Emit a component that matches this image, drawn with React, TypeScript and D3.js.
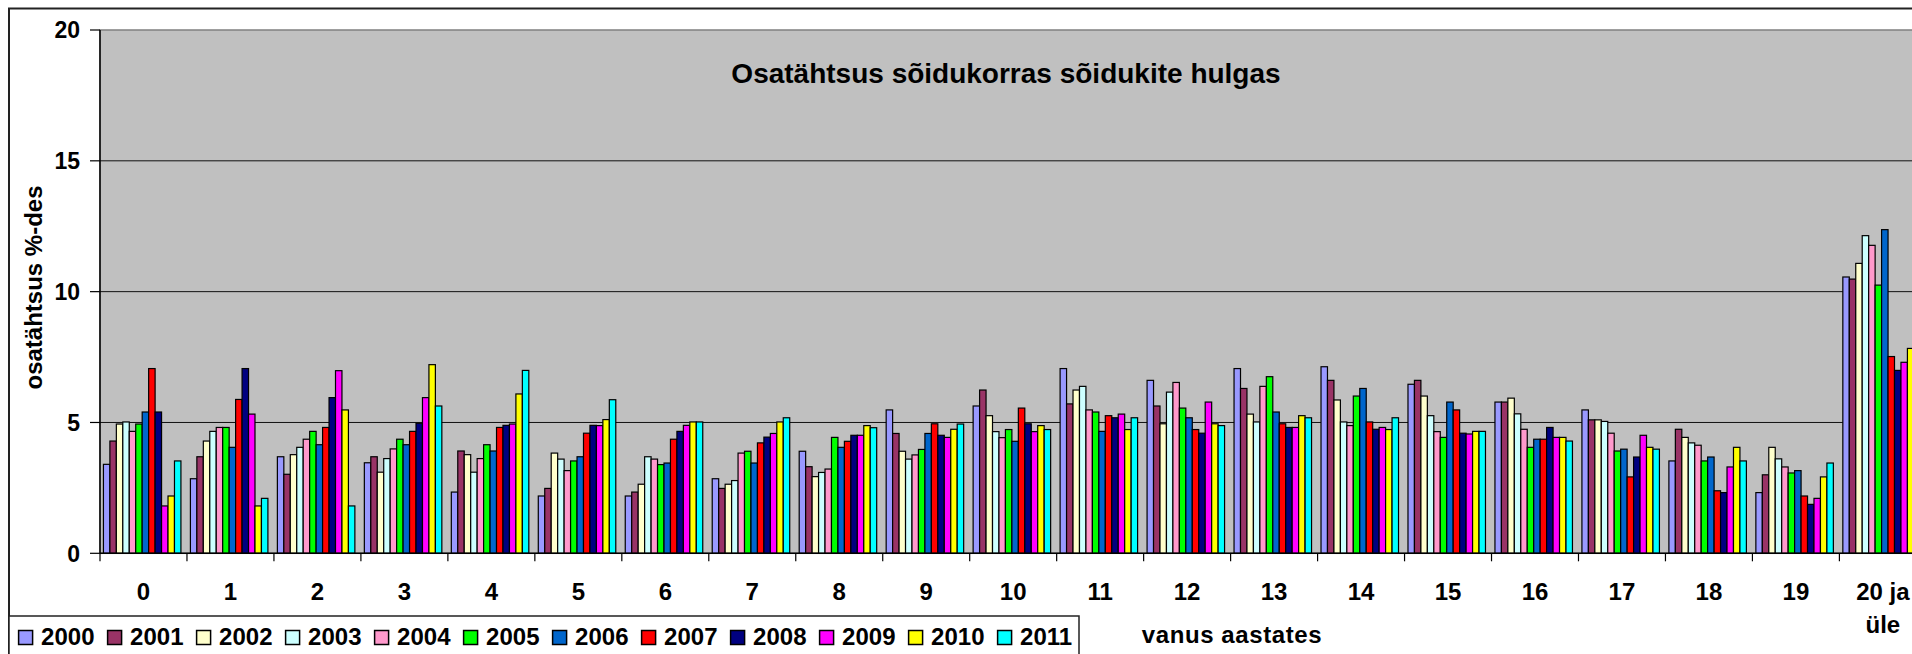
import React from "react";
import * as d3 from "d3";

const categories = ["0","1","2","3","4","5","6","7","8","9","10","11","12","13","14","15","16","17","18","19","20 ja üle"];
const years = ["2000","2001","2002","2003","2004","2005","2006","2007","2008","2009","2010","2011"];
const colors = ["#9999FF","#993366","#FFFFCC","#CCFFFF","#FF99CC","#00FF00","#0066CC","#FF0000","#000080","#FF00FF","#FFFF00","#00FFFF"];

const s2000 = [3.40, 2.85, 3.69, 3.46, 2.34, 2.19, 2.19, 2.85, 3.90, 5.48, 5.63, 7.06, 6.61, 7.06, 7.13, 6.46, 5.78, 5.48, 3.53, 2.32, 10.56];
const s2001 = [4.29, 3.69, 3.02, 3.69, 3.91, 2.48, 2.34, 2.48, 3.31, 4.58, 6.24, 5.71, 5.63, 6.30, 6.61, 6.61, 5.78, 5.10, 4.74, 3.00, 10.48];
const s2002 = [4.94, 4.29, 3.77, 3.10, 3.77, 3.83, 2.64, 2.64, 2.93, 3.90, 5.26, 6.24, 4.95, 5.32, 5.86, 6.01, 5.93, 5.10, 4.43, 4.05, 11.08];
const s2003 = [5.02, 4.66, 4.05, 3.62, 3.10, 3.60, 3.69, 2.78, 3.09, 3.60, 4.65, 6.38, 6.16, 5.02, 5.02, 5.26, 5.33, 5.04, 4.22, 3.61, 12.14];
const s2004 = [4.66, 4.81, 4.36, 3.99, 3.62, 3.16, 3.60, 3.83, 3.22, 3.76, 4.42, 5.48, 6.53, 6.38, 4.88, 4.65, 4.74, 4.59, 4.13, 3.30, 11.77];
const s2005 = [4.94, 4.81, 4.66, 4.36, 4.15, 3.53, 3.39, 3.90, 4.43, 3.97, 4.73, 5.40, 5.55, 6.75, 6.01, 4.43, 4.05, 3.91, 3.53, 3.07, 10.25];
const s2006 = [5.40, 4.05, 4.15, 4.15, 3.91, 3.69, 3.45, 3.45, 4.05, 4.58, 4.28, 4.66, 5.18, 5.40, 6.30, 5.78, 4.36, 3.98, 3.68, 3.16, 12.37];
const s2007 = [7.06, 5.88, 4.81, 4.66, 4.81, 4.59, 4.36, 4.22, 4.28, 4.95, 5.55, 5.26, 4.73, 4.95, 5.02, 5.48, 4.36, 2.92, 2.39, 2.19, 7.52];
const s2008 = [5.40, 7.06, 5.95, 4.97, 4.89, 4.89, 4.66, 4.44, 4.51, 4.51, 4.95, 5.18, 4.59, 4.81, 4.74, 4.59, 4.81, 3.68, 2.32, 1.87, 6.99];
const s2009 = [1.81, 5.32, 6.98, 5.95, 4.94, 4.88, 4.89, 4.58, 4.51, 4.43, 4.65, 5.32, 5.78, 4.81, 4.81, 4.56, 4.43, 4.51, 3.30, 2.10, 7.30];
const s2010 = [2.19, 1.81, 5.48, 7.21, 6.09, 5.11, 5.02, 5.02, 4.88, 4.74, 4.88, 4.73, 4.95, 5.26, 4.73, 4.66, 4.43, 4.05, 4.05, 2.92, 7.83];
const s2011 = [3.53, 2.10, 1.81, 5.63, 6.99, 5.87, 5.02, 5.18, 4.80, 4.94, 4.73, 5.18, 4.88, 5.18, 5.18, 4.66, 4.29, 3.98, 3.53, 3.45, 7.60];
const series = [s2000, s2001, s2002, s2003, s2004, s2005, s2006, s2007, s2008, s2009, s2010, s2011];

const yTicks = [0, 5, 10, 15, 20];
const title = "Osatähtsus sõidukorras sõidukite hulgas";
const yTitle = "osatähtsus %-des";
const xTitle = "vanus aastates";

const FONT = "'Liberation Sans', Arial, sans-serif";

export default function App() {
  const W = 1912, H = 654;
  const plotL = 100, plotT = 30, plotB = 553.3;
  const catW = 86.97;
  const plotR = plotL + catW * categories.length;

  const x0 = d3.scaleBand<string>().domain(categories).range([plotL, plotR]).paddingInner(0).paddingOuter(0);
  const groupW = 77.5;
  const x1 = d3.scaleBand<string>().domain(years).range([0, groupW]).padding(0);
  const groupOffset = (catW - groupW) / 2 - 1.3;
  const y = d3.scaleLinear().domain([0, 20]).range([plotB, plotT]);

  return (
    <svg width={W} height={H} style={{ position: "absolute", left: 0, top: 0, background: "#fff" }} fontFamily={FONT}>
      {/* outer chart border */}
      <rect x={9} y={8.5} width={W + 20} height={H + 20} fill="#fff" stroke="#222" strokeWidth={2} />
      {/* plot area */}
      <rect x={plotL} y={plotT} width={plotR - plotL} height={plotB - plotT} fill="#C0C0C0" stroke="#808080" strokeWidth={1.5} />
      {yTicks.filter(t => t > 0 && t < 20).map(t => (
        <line key={"g" + t} x1={plotL} x2={plotR} y1={y(t)} y2={y(t)} stroke="#111" strokeWidth={1} />
      ))}
      <text x={1006} y={83} textAnchor="middle" fontSize={28} fontWeight="bold" fill="#000">{title}</text>

      {/* bars */}
      {categories.map((c, ci) => (
        <g key={c} transform={`translate(${(x0(c) as number) + groupOffset},0)`}>
          {years.map((yr, si) => {
            const v = series[si][ci];
            return (
              <rect key={yr} x={x1(yr)} y={y(v)} width={x1.bandwidth()} height={y(0) - y(v)}
                fill={colors[si]} stroke="#000" strokeWidth={1.2} />
            );
          })}
        </g>
      ))}

      {/* axes */}
      <line x1={plotL} x2={plotL} y1={plotT} y2={plotB} stroke="#000" strokeWidth={1.5} />
      <line x1={plotL} x2={plotR} y1={plotB} y2={plotB} stroke="#000" strokeWidth={1.5} />
      {yTicks.map(t => (
        <g key={"yt" + t}>
          <line x1={plotL - 10} x2={plotL} y1={y(t)} y2={y(t)} stroke="#000" strokeWidth={1.2} />
          <text x={80} y={y(t)} dy="0.36em" textAnchor="end" fontSize={23} fontWeight="bold">{t}</text>
        </g>
      ))}
      {d3.range(categories.length + 1).map(i => (
        <line key={"xt" + i} x1={plotL + i * catW} x2={plotL + i * catW} y1={plotB} y2={plotB + 8} stroke="#000" strokeWidth={1.2} />
      ))}
      {categories.map(c => {
        const cx = (x0(c) as number) + catW / 2;
        const parts = c === "20 ja üle" ? ["20 ja", "üle"] : [c];
        return (
          <text key={"xl" + c} x={cx} y={599.5} textAnchor="middle" fontSize={24} fontWeight="bold">
            {parts.map((p, i) => (
              <tspan key={i} x={cx} dy={i === 0 ? 0 : 33}>{p}</tspan>
            ))}
          </text>
        );
      })}

      <text transform="translate(41.5,287.5) rotate(-90)" textAnchor="middle" fontSize={24} fontWeight="bold">{yTitle}</text>
      <text x={1232} y={643} textAnchor="middle" fontSize={24} fontWeight="bold" letterSpacing={0.6}>{xTitle}</text>

      {/* legend */}
      <rect x={9} y={616} width={1070} height={60} fill="#fff" stroke="#222" strokeWidth={1.5} />
      {years.map((yr, i) => (
        <g key={"lg" + yr} transform={`translate(${18.6 + i * 89},0)`}>
          <rect x={0} y={630.5} width={14} height={14} fill={colors[i]} stroke="#000" strokeWidth={1.5} />
          <text x={22.5} y={645} fontSize={24} fontWeight="bold">{yr}</text>
        </g>
      ))}
    </svg>
  );
}
